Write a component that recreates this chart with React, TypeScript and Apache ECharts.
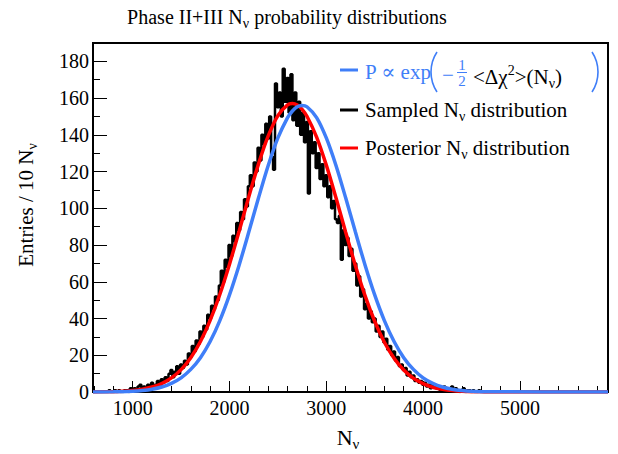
import React, { useEffect, useRef } from "react";
import * as echarts from "echarts";

// ---- Axis range & tick labels ----
const xMin = 590;
const xMax = 5910;
const yMin = 0;
const yMax = 190;
const xMajorTicks = [1000, 2000, 3000, 4000, 5000];
const xMinorTicks = [600, 800, 1200, 1400, 1600, 1800, 2200, 2400, 2600, 2800, 3200, 3400, 3600, 3800, 4200, 4400, 4600, 4800, 5200, 5400, 5600, 5800];
const yMajorTicks = [0, 20, 40, 60, 80, 100, 120, 140, 160, 180];
const yMinorTicks = [10, 30, 50, 70, 90, 110, 130, 150, 170, 190];

// ---- Smooth curves ----
const curveX = [590, 800, 900, 1000, 1100, 1200, 1300, 1400, 1500, 1600, 1700, 1800, 1900, 2000, 2100, 2200, 2300, 2400, 2500, 2600, 2650, 2700, 2750, 2800, 2900, 3000, 3100, 3200, 3300, 3400, 3500, 3600, 3700, 3800, 3900, 4000, 4100, 4200, 4300, 4400, 4500, 4600, 4700, 5910];
const blueValues = [0, 0.1, 0.2, 0.4, 0.8, 1.5, 2.7, 4.7, 7.7, 12.3, 18.7, 27.5, 38.9, 52.9, 69.2, 87.2, 105.7, 123.3, 138.3, 149.4, 153.0, 155.3, 156.0, 155.3, 149.4, 138.3, 123.3, 105.7, 87.2, 69.2, 52.9, 38.9, 27.5, 18.7, 12.3, 7.7, 4.7, 2.7, 1.5, 0.8, 0.4, 0.2, 0.1, 0];
const redValues = [0, 0.2, 0.4, 0.8, 1.5, 2.7, 4.6, 7.7, 12.2, 18.7, 27.5, 39.0, 53.1, 69.6, 87.7, 106.4, 124.2, 139.4, 150.5, 156.3, 157.0, 156.2, 153.9, 150.1, 138.8, 123.5, 105.7, 87.0, 68.9, 52.5, 38.5, 27.1, 18.4, 12.0, 7.5, 4.6, 2.6, 1.5, 0.8, 0.4, 0.2, 0.1, 0, 0];

// ---- Sampled histogram (bins of 20 starting at 700) ----
const histStart = 700;
const histWidth = 20;
const sampledValues = [
  0, 0, 0, 1, 0, 0, 1, 0, 1, 0, 0, 1, 1, 0, 2, 1,
  2, 1, 3, 4, 2, 3, 1, 4, 3, 5, 2, 4, 6, 3, 7,
  5, 8, 6, 10, 12, 8, 11, 14, 10, 15, 13, 17, 15, 21, 19,
  25, 22, 28, 26, 33, 30, 36, 34, 42, 40, 47, 45, 52, 50, 58,
  66, 60, 72, 68, 80, 74, 85, 82, 92, 88, 98, 94, 105, 101, 112,
  118, 112, 125, 120, 133, 126, 140, 135, 146, 138, 150, 128, 121, 168, 155,
  163, 150, 176, 158, 171, 152, 173, 148, 163, 145, 158, 140, 152, 136, 147,
  108, 142, 130, 136, 122, 130, 116, 124, 112, 118, 106, 112, 100, 104, 94,
  92, 96, 72, 88, 80, 84, 74, 78, 66, 70, 58, 63, 52, 56, 45,
  48, 40, 44, 38, 40, 33, 36, 30, 33, 27, 29, 23, 25, 20, 22,
  17, 19, 14, 15, 12, 13, 9, 11, 8, 9, 6, 7, 5, 6, 4,
  5, 3, 4, 2, 4, 3, 2, 3, 1, 2, 3, 1, 2, 1, 3,
  1, 2, 1, 0, 1, 2, 0, 1, 1, 0, 1, 0, 0, 1, 0, 0, 0, 0, 0, 0,
];

const BLUE = "#3f7ef8";
const RED = "#ff0000";
const FONT = "'Liberation Serif', 'DejaVu Serif', serif";

export default function App() {
  const ref = useRef<HTMLDivElement>(null);

  useEffect(() => {
    document.body.style.margin = "0";
    if (!ref.current) return;
    const chart = echarts.init(ref.current, null, { renderer: "svg" });

    const blueData = curveX.map((x, i) => [x, blueValues[i]]);
    const redData = curveX.map((x, i) => [x, redValues[i]]);
    const blackData: number[][] = [[xMin, 0]];
    sampledValues.forEach((v, i) => blackData.push([histStart + i * histWidth, v]));
    blackData.push([xMax, 0]);

    const mkRich = (size: number, color: string) => ({
      n: { fontSize: size, fontFamily: FONT, lineHeight: size + 6, color },
      sub: { fontSize: Math.round(size * 0.68), fontFamily: FONT, lineHeight: Math.round(size * 0.55), verticalAlign: "bottom", color },
      sup: { fontSize: Math.round(size * 0.68), fontFamily: FONT, lineHeight: Math.round(size * 0.55), verticalAlign: "top", color },
    });

    // parenthesis arcs: chord 40px, sagitta 6px
    const pr = 36.3;
    const pa = 0.583;

    const option: any = {
      animation: false,
      backgroundColor: "#fff",
      grid: {
        left: 93,
        right: 10,
        top: 43,
        bottom: 62,
        show: true,
        borderColor: "#000",
        borderWidth: 2,
        backgroundColor: "transparent",
      },
      xAxis: [
        {
          type: "value",
          min: xMin,
          max: xMax,
          position: "bottom",
          axisLine: { show: false },
          splitLine: { show: false },
          axisTick: { show: true, inside: true, length: 11, lineStyle: { color: "#000", width: 1 }, customValues: xMajorTicks },
          axisLabel: { customValues: xMajorTicks, formatter: (v: number) => String(v), fontSize: 20, fontFamily: FONT, color: "#000", margin: 6 },
        },
        {
          type: "value",
          min: xMin,
          max: xMax,
          position: "bottom",
          axisLine: { show: false },
          splitLine: { show: false },
          axisLabel: { show: false },
          axisTick: { show: true, inside: true, length: 6, lineStyle: { color: "#000", width: 1 }, customValues: xMinorTicks },
        },
      ],
      yAxis: [
        {
          type: "value",
          min: yMin,
          max: yMax,
          position: "left",
          axisLine: { show: false },
          splitLine: { show: false },
          axisTick: { show: true, inside: true, length: 14, lineStyle: { color: "#000", width: 1 }, customValues: yMajorTicks },
          axisLabel: { customValues: yMajorTicks, formatter: (v: number) => String(v), fontSize: 20, fontFamily: FONT, color: "#000", margin: 4 },
        },
        {
          type: "value",
          min: yMin,
          max: yMax,
          position: "left",
          axisLine: { show: false },
          splitLine: { show: false },
          axisLabel: { show: false },
          axisTick: { show: true, inside: true, length: 7, lineStyle: { color: "#000", width: 1 }, customValues: yMinorTicks },
        },
      ],
      series: [
        {
          name: "Sampled",
          type: "line",
          data: blackData,
          step: "middle",
          showSymbol: false,
          lineStyle: { color: "#000", width: 2.5 },
          z: 2,
        },
        {
          name: "Posterior",
          type: "line",
          data: redData,
          smooth: 0.3,
          showSymbol: false,
          lineStyle: { color: RED, width: 3.5 },
          z: 3,
        },
        {
          name: "Chi2",
          type: "line",
          data: blueData,
          smooth: 0.3,
          showSymbol: false,
          lineStyle: { color: BLUE, width: 3.5 },
          z: 4,
        },
      ],
      graphic: [
        // Title
        {
          type: "text",
          x: 287,
          y: 17,
          style: {
            text: "{n|Phase II+III N}{sub|ν}{n| probability distributions}",
            rich: mkRich(20, "#000"),
            align: "center",
            verticalAlign: "middle",
          },
        },
        // Y axis title
        {
          type: "text",
          x: 26,
          y: 205,
          rotation: Math.PI / 2,
          style: {
            text: "{n|Entries / 10 N}{sub|ν}",
            rich: mkRich(21, "#000"),
            align: "center",
            verticalAlign: "middle",
          },
        },
        // X axis title
        {
          type: "text",
          x: 348,
          y: 437,
          style: {
            text: "{n|N}{sub|ν}",
            rich: mkRich(22, "#000"),
            align: "center",
            verticalAlign: "middle",
          },
        },
        // Legend symbols
        { type: "line", shape: { x1: 340, y1: 70, x2: 358, y2: 70 }, style: { stroke: BLUE, lineWidth: 3 }, z: 10 },
        { type: "line", shape: { x1: 340, y1: 110, x2: 358, y2: 110 }, style: { stroke: "#000", lineWidth: 3 }, z: 10 },
        { type: "line", shape: { x1: 340, y1: 148, x2: 358, y2: 148 }, style: { stroke: RED, lineWidth: 3 }, z: 10 },
        // Legend entry 1 (formula)
        {
          type: "text", x: 365, y: 72, z: 10,
          style: { text: "P ∝ exp", fontSize: 21, fontFamily: FONT, fill: BLUE, align: "left", verticalAlign: "middle" },
        },
        {
          type: "arc", z: 10,
          shape: { cx: 431 + pr, cy: 72, r: pr, startAngle: Math.PI - pa, endAngle: Math.PI + pa, clockwise: true },
          style: { stroke: BLUE, lineWidth: 1.6, fill: "none" },
        },
        {
          type: "text", x: 442, y: 75, z: 10,
          style: { text: "−", fontSize: 21, fontFamily: FONT, fill: BLUE, align: "left", verticalAlign: "middle" },
        },
        {
          type: "text", x: 462, y: 65, z: 10,
          style: { text: "1", fontSize: 15, fontFamily: FONT, fill: BLUE, align: "center", verticalAlign: "middle" },
        },
        { type: "line", shape: { x1: 457, y1: 72.5, x2: 467, y2: 72.5 }, style: { stroke: BLUE, lineWidth: 1 }, z: 10 },
        {
          type: "text", x: 462, y: 81, z: 10,
          style: { text: "2", fontSize: 15, fontFamily: FONT, fill: BLUE, align: "center", verticalAlign: "middle" },
        },
        {
          type: "text", x: 473, y: 77, z: 10,
          style: {
            text: "{n|<Δχ}{sup|2}{n|>(N}{sub|ν}{n|)}",
            rich: mkRich(21, BLUE),
            align: "left",
            verticalAlign: "middle",
          },
        },
        {
          type: "arc", z: 10,
          shape: { cx: 598 - pr, cy: 72, r: pr, startAngle: -pa, endAngle: pa, clockwise: true },
          style: { stroke: BLUE, lineWidth: 1.6, fill: "none" },
        },
        // Legend entry 2
        {
          type: "text", x: 365, y: 110, z: 10,
          style: { text: "{n|Sampled N}{sub|ν}{n| distribution}", rich: mkRich(21, "#000"), align: "left", verticalAlign: "middle" },
        },
        // Legend entry 3
        {
          type: "text", x: 365, y: 148, z: 10,
          style: { text: "{n|Posterior N}{sub|ν}{n| distribution}", rich: mkRich(21, RED), align: "left", verticalAlign: "middle" },
        },
      ],
    };

    chart.setOption(option);
    return () => chart.dispose();
  }, []);

  return <div ref={ref} style={{ width: 618, height: 454 }} />;
}
